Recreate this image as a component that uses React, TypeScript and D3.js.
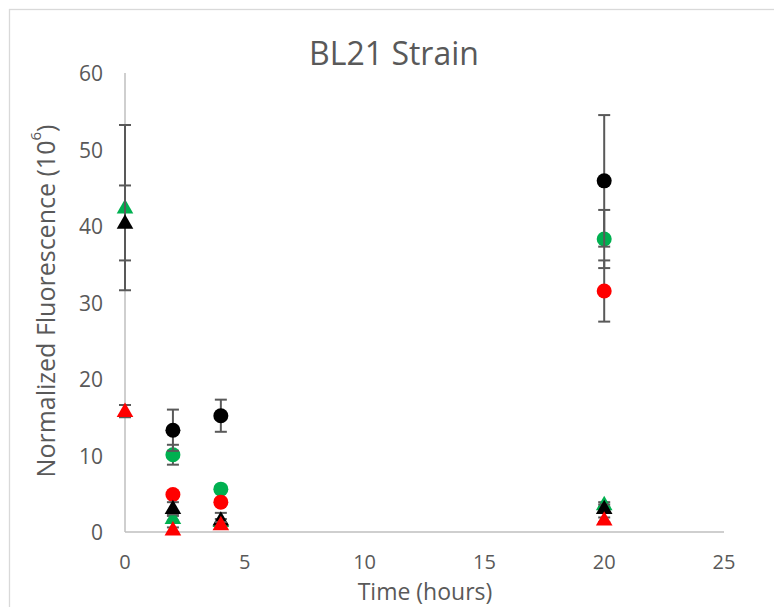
import React from "react";
import * as d3 from "d3";

const times = [0, 2, 4, 20];
const xTicks = [0, 5, 10, 15, 20, 25];
const yTicks = [0, 10, 20, 30, 40, 50, 60];

const blackCircle = [null, 13.3, 15.2, 45.9];
const blackCircleErr = [null, 2.7, 2.1, 8.6];
const greenCircle = [null, 10.1, 5.6, 38.3];
const greenCircleErr = [null, 1.3, 0.4, 3.8];
const redCircle = [null, 4.9, 3.9, 31.5];
const redCircleErr = [null, 0.4, 0.4, 4.0];
const greenTriangle = [42.4, 1.8, 1.4, 3.6];
const greenTriangleErr = [10.8, 0.3, 0.3, 0.3];
const blackTriangle = [40.4, 3.1, 1.6, 3.1];
const blackTriangleErr = [4.9, 0.8, 0.9, 0.5];
const redTriangle = [15.8, 0.3, 1.0, 1.6];
const redTriangleErr = [0.8, 0.3, 0.3, 0.3];

const GREEN = "#00b050";
const RED = "#ff0000";
const BLACK = "#000000";

type Series = { vals: (number | null)[]; err: (number | null)[]; color: string; shape: "circle" | "triangle" };

const seriesList: Series[] = [
  { vals: greenCircle, err: greenCircleErr, color: GREEN, shape: "circle" },
  { vals: redCircle, err: redCircleErr, color: RED, shape: "circle" },
  { vals: blackCircle, err: blackCircleErr, color: BLACK, shape: "circle" },
  { vals: greenTriangle, err: greenTriangleErr, color: GREEN, shape: "triangle" },
  { vals: blackTriangle, err: blackTriangleErr, color: BLACK, shape: "triangle" },
  { vals: redTriangle, err: redTriangleErr, color: RED, shape: "triangle" },
];

const FONT = "'Open Sans', sans-serif";
const TXT = "#595959";

export default function App() {
  const W = 774, H = 607;
  const x = d3.scaleLinear().domain([0, 25]).range([125, 724]);
  const y = d3.scaleLinear().domain([0, 60]).range([532, 73]);
  const circle = d3.symbol().type(d3.symbolCircle).size(Math.PI * 7.5 * 7.5);
  const tri = d3.symbol().type(d3.symbolTriangle).size(120);

  return (
    <div style={{ position: "absolute", left: 0, top: 0 }}>
      <svg width={W} height={H} style={{ display: "block" }}>
        <rect x={0} y={0} width={W} height={H} fill="#fff" />
        <rect x={9.5} y={9.5} width={900} height={800} fill="none" stroke="#d9d9d9" strokeWidth={1.3} />
        <text x={394} y={52} textAnchor="middle" dominantBaseline="central" fontFamily={FONT} fontSize={32} fill={TXT}>
          BL21 Strain
        </text>
        {/* axes */}
        <line x1={x(0)} x2={x(0)} y1={y(60)} y2={y(0)} stroke="#bfbfbf" strokeWidth={1.5} />
        <line x1={x(0)} x2={x(25)} y1={y(0)} y2={y(0)} stroke="#bfbfbf" strokeWidth={1.5} />
        {yTicks.map((t) => (
          <text key={"y" + t} x={103} y={y(t)} textAnchor="end" dominantBaseline="central" fontFamily={FONT} fontSize={21} fill={TXT}>
            {t}
          </text>
        ))}
        {xTicks.map((t) => (
          <text key={"x" + t} x={x(t)} y={561} textAnchor="middle" dominantBaseline="central" fontFamily={FONT} fontSize={20} fill={TXT}>
            {t}
          </text>
        ))}
        <text x={425} y={591} textAnchor="middle" dominantBaseline="central" fontFamily={FONT} fontSize={23} fill={TXT}>
          Time (hours)
        </text>
        <text
          transform={`translate(45,301) rotate(-90)`}
          textAnchor="middle"
          dominantBaseline="central"
          fontFamily={FONT}
          fontSize={25}
          fill={TXT}
        >
          Normalized Fluorescence (10<tspan dy={-10} fontSize={15}>6</tspan><tspan dy={10}>)</tspan>
        </text>
        {seriesList.map((s, si) => (
          <g key={si}>
            {s.vals.map((v, i) => {
              if (v == null) return null;
              const e = s.err[i] ?? 0;
              const cx = x(times[i]);
              const cy = y(v);
              const y1 = y(v + e);
              const y2 = y(Math.max(0, v - e));
              return (
                <g key={i}>
                  <line x1={cx} x2={cx} y1={y1} y2={y2} stroke="#595959" strokeWidth={2} />
                  <line x1={cx - 6} x2={cx + 6} y1={y1} y2={y1} stroke="#595959" strokeWidth={2} />
                  <line x1={cx - 6} x2={cx + 6} y1={y2} y2={y2} stroke="#595959" strokeWidth={2} />
                  <path
                    d={(s.shape === "circle" ? circle : tri)() as string}
                    transform={`translate(${cx},${cy + (s.shape === "triangle" ? 1 : 0)})`}
                    fill={s.color}
                  />
                </g>
              );
            })}
          </g>
        ))}
      </svg>
    </div>
  );
}
